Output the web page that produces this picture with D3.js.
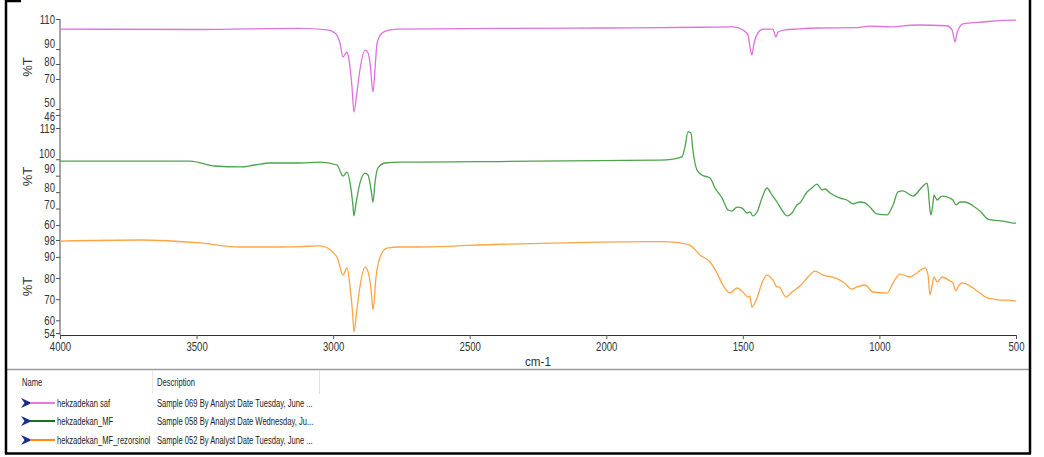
<!DOCTYPE html>
<html>
<head>
<meta charset="utf-8">
<script src="https://cdn.jsdelivr.net/npm/d3@7"></script>
<style>
  html, body { margin: 0; padding: 0; background: #fff; }
  svg { display: block; }
  .tick-label { font-family: "Liberation Sans", Arial, sans-serif; font-size: 12px; fill: #333; }
  .axis-title { font-family: "Liberation Sans", Arial, sans-serif; font-size: 13px; fill: #333; }
  .legend-text { font-family: "Liberation Sans", Arial, sans-serif; font-size: 10px; fill: #222; }
</style>
</head>
<body>
<svg id="chart" width="1044" height="457"></svg>
<script>
// Wavenumber axis (cm-1)
const xTicks = [4000, 3500, 3000, 2500, 2000, 1500, 1000, 500];

// Per-spectrum %T axis ticks
const safTicks = [110, 90, 80, 70, 50, 46];
const mfTicks = [119, 100, 90, 80, 70, 60];
const rezTicks = [98, 90, 80, 70, 60, 54];

// Series names and descriptions
const seriesNames = ["hekzadekan saf", "hekzadekan_MF", "hekzadekan_MF_rezorsinol"];
const seriesDescriptions = [
  "Sample 069 By Analyst Date Tuesday, June ...",
  "Sample 058 By Analyst Date Wednesday, Ju...",
  "Sample 052 By Analyst Date Tuesday, June ..."
];

// Spectra: [wavenumber, %T]
const safSpectrum = [
  [4000,103.3],[3487,103.0],[3121,103.7],[3022,102.7],[2993,100.7],[2975,94.0],[2964,84.7],
  [2949,88.0],[2942,82.7],[2931,64.7],[2924,48.0],[2913,60.7],[2902,76.0],[2883,89.3],
  [2872,87.3],[2865,80.7],[2854,61.3],[2847,76.0],[2839,94.0],[2821,100.7],[2792,102.7],
  [2755,103.3],[2389,103.7],[2023,104.0],[1657,104.5],[1536,104.7],[1500,102.7],[1481,99.3],
  [1474,91.3],[1467,86.0],[1459,94.0],[1445,100.7],[1426,103.3],[1390,103.3],[1379,98.0],
  [1371,101.3],[1346,102.7],[1302,103.3],[1229,104.0],[1082,104.2],[1035,105.3],[961,104.7],
  [863,106.0],[753,105.5],[734,102.7],[723,94.7],[716,100.7],[694,106.7],[621,108.0],
  [511,109.3],[500,109.3]
];

const mfSpectrum = [
  [4000,98.9],[3524,98.9],[3433,95.9],[3341,95.3],[3286,96.5],[3231,97.7],[3121,97.7],
  [3048,98.3],[2986,96.5],[2964,89.8],[2949,92.2],[2938,85.5],[2927,70.9],[2924,65.5],
  [2916,73.4],[2902,85.5],[2883,91.6],[2872,90.4],[2861,81.3],[2854,74.0],[2847,85.5],
  [2836,94.7],[2810,97.7],[2755,98.3],[2682,98.3],[2389,98.6],[2023,99.2],[1803,99.5],
  [1756,100.1],[1723,101.4],[1712,107.4],[1701,116.6],[1690,116.0],[1683,105.6],[1668,93.5],
  [1650,90.4],[1620,88.6],[1602,82.5],[1576,76.4],[1554,69.1],[1540,68.5],[1521,70.9],
  [1503,70.3],[1485,67.3],[1474,67.9],[1463,65.5],[1448,67.9],[1430,76.4],[1412,82.5],
  [1393,78.2],[1375,74.0],[1357,69.1],[1338,65.5],[1320,67.3],[1302,72.2],[1291,73.4],
  [1265,80.1],[1247,82.5],[1229,84.9],[1210,81.3],[1199,81.9],[1181,79.5],[1144,76.4],
  [1119,75.2],[1097,72.8],[1071,74.0],[1053,73.4],[1035,70.9],[1009,66.7],[972,66.1],
  [950,72.2],[932,80.1],[914,80.7],[877,77.6],[844,83.1],[826,85.5],[822,82.5],[815,69.1],
  [811,66.1],[804,73.4],[800,78.2],[789,75.2],[771,77.6],[742,76.4],[731,75.2],[720,72.2],
  [705,74.0],[687,74.0],[657,71.6],[632,68.5],[603,63.6],[584,63.0],[548,62.4],[511,61.2],
  [500,61.2]
];

const rezSpectrum = [
  [4000,97.5],[3707,98.0],[3487,96.6],[3341,94.7],[3231,94.7],[3121,94.9],[3048,95.2],
  [2986,90.0],[2964,81.4],[2949,84.8],[2938,75.8],[2927,60.2],[2924,54.5],[2913,64.9],
  [2902,75.8],[2883,85.2],[2872,82.9],[2861,74.3],[2854,64.9],[2843,80.5],[2828,90.0],
  [2803,94.2],[2755,94.7],[2682,94.7],[2389,96.0],[2023,97.0],[1803,97.2],[1730,96.6],
  [1694,95.6],[1657,90.9],[1620,87.6],[1595,82.4],[1573,76.7],[1547,72.9],[1521,75.3],
  [1500,73.4],[1481,71.0],[1474,71.5],[1467,66.3],[1448,70.6],[1430,77.7],[1412,81.4],
  [1390,79.1],[1375,75.8],[1368,75.8],[1342,71.0],[1320,73.4],[1291,76.2],[1265,80.0],
  [1236,83.3],[1207,81.4],[1174,80.5],[1133,78.1],[1100,74.8],[1082,75.8],[1053,76.7],
  [1024,73.4],[972,72.9],[950,77.7],[925,81.9],[888,80.5],[863,82.4],[833,84.8],[822,81.4],
  [815,72.0],[808,75.8],[800,80.5],[789,78.1],[771,80.5],[742,78.6],[731,77.7],[720,73.9],
  [712,75.8],[698,77.7],[657,75.3],[632,72.9],[606,70.6],[584,70.1],[559,69.6],[533,69.6],
  [500,69.1]
];

const svg = d3.select("#chart");

const plotLeft = 60, plotRight = 1016, axisY = 335;
const narrow = 0.8;        // horizontal squeeze for the condensed axis lettering
const legendNarrow = 0.76; // and for the legend table
const x = d3.scaleLinear().domain([4000, 500]).range([plotLeft, plotRight]);

// Stacked panels, one per spectrum; labelShift lifts crowded labels off their ticks
const panels = [
  { data: safSpectrum, ticks: safTicks, domain: [46, 110], range: [115, 19], color: "#de72de", legendColor: "#e07ce0",
    labelShift: { 90: -6, 80: -3, 70: -1, 50: -7, 46: 1 } },
  { data: mfSpectrum,  ticks: mfTicks,  domain: [60, 119], range: [225, 128], color: "#4ea24e", legendColor: "#137813",
    labelShift: { 100: -6, 90: -7, 80: -5, 70: -4, 60: -1 } },
  { data: rezSpectrum, ticks: rezTicks, domain: [54, 98],  range: [333, 240], color: "#ffa445", legendColor: "#ff8a10",
    labelShift: {} }
];

// Continuous vertical axis line
svg.append("line")
  .attr("x1", plotLeft).attr("x2", plotLeft)
  .attr("y1", 19).attr("y2", axisY)
  .attr("stroke", "#888").attr("stroke-width", 1.5);

panels.forEach(p => {
  const y = d3.scaleLinear().domain(p.domain).range(p.range);

  const yAxis = d3.axisLeft(y).tickValues(p.ticks).tickSize(4).tickFormat(d3.format("d"));
  const g = svg.append("g").attr("transform", `translate(${plotLeft},0)`).call(yAxis);
  g.select(".domain").remove();
  g.selectAll(".tick line").attr("stroke", "#555");
  g.selectAll(".tick text")
    .attr("class", "tick-label")
    .attr("x", null)
    .attr("dy", "0.34em")
    .attr("transform", d => `translate(-5,${p.labelShift[d] || 0}) scale(${narrow},1)`);

  const midY = (p.range[0] + p.range[1]) / 2;
  svg.append("text")
    .attr("class", "axis-title")
    .attr("transform", `translate(32,${midY}) rotate(-90)`)
    .attr("text-anchor", "middle")
    .text("%T");

  const line = d3.line()
    .x(d => x(d[0]))
    .y(d => y(d[1]))
    .curve(d3.curveMonotoneX);

  svg.append("path")
    .datum(p.data)
    .attr("fill", "none")
    .attr("stroke", p.color)
    .attr("stroke-width", 1.3)
    .attr("stroke-linejoin", "round")
    .attr("d", line);
});

// Wavenumber axis
const xAxis = d3.axisBottom(x).tickValues(xTicks).tickSize(4).tickSizeOuter(0).tickFormat(d3.format("d"));
const gx = svg.append("g").attr("transform", `translate(0,${axisY})`).call(xAxis);
gx.select(".domain").attr("stroke", "#333").attr("stroke-width", 1.2);
gx.selectAll(".tick line").attr("stroke", "#555");
gx.selectAll(".tick text")
  .attr("class", "tick-label")
  .attr("y", null)
  .attr("transform", `translate(0,7) scale(${narrow},1)`);

svg.append("text")
  .attr("class", "axis-title")
  .attr("transform", `translate(538,366) scale(0.9,1)`)
  .attr("text-anchor", "middle")
  .text("cm-1");

// Legend table
svg.append("line").attr("x1", 6).attr("x2", 1030).attr("y1", 369.5).attr("y2", 369.5)
  .attr("stroke", "#9a9a9a").attr("stroke-width", 1.5);
svg.append("line").attr("x1", 152.5).attr("x2", 152.5).attr("y1", 371).attr("y2", 394)
  .attr("stroke", "#e6e6e6");
svg.append("line").attr("x1", 319.5).attr("x2", 319.5).attr("y1", 371).attr("y2", 394)
  .attr("stroke", "#e0e0e0");

function legendText(tx, ty, s) {
  svg.append("text")
    .attr("class", "legend-text")
    .attr("transform", `translate(${tx},${ty}) scale(${legendNarrow},1)`)
    .text(s);
}

legendText(22, 386, "Name");
legendText(157, 386, "Description");

const rowY = [403, 421, 440];
panels.forEach((p, i) => {
  const cy = rowY[i];
  svg.append("path")
    .attr("d", `M${21},${cy - 5} L${32},${cy} L${21},${cy + 5} L${24.5},${cy} Z`)
    .attr("fill", "#1c2a8c");
  svg.append("line")
    .attr("x1", 30).attr("x2", 55).attr("y1", cy).attr("y2", cy)
    .attr("stroke", p.legendColor).attr("stroke-width", 2);
  legendText(57, cy + 3.5, seriesNames[i]);
  legendText(157, cy + 3.5, seriesDescriptions[i]);
});

// Window frame
const frame = svg.append("g").attr("stroke", "#000").attr("stroke-width", 2.5);
frame.append("line").attr("x1", 6).attr("x2", 6).attr("y1", 0).attr("y2", 454);
frame.append("line").attr("x1", 1030).attr("x2", 1030).attr("y1", 0).attr("y2", 454);
frame.append("line").attr("x1", 5).attr("x2", 1031).attr("y1", 453.5).attr("y2", 453.5);
frame.append("line").attr("x1", 5).attr("x2", 21).attr("y1", 1).attr("y2", 1);
</script>
</body>
</html>
